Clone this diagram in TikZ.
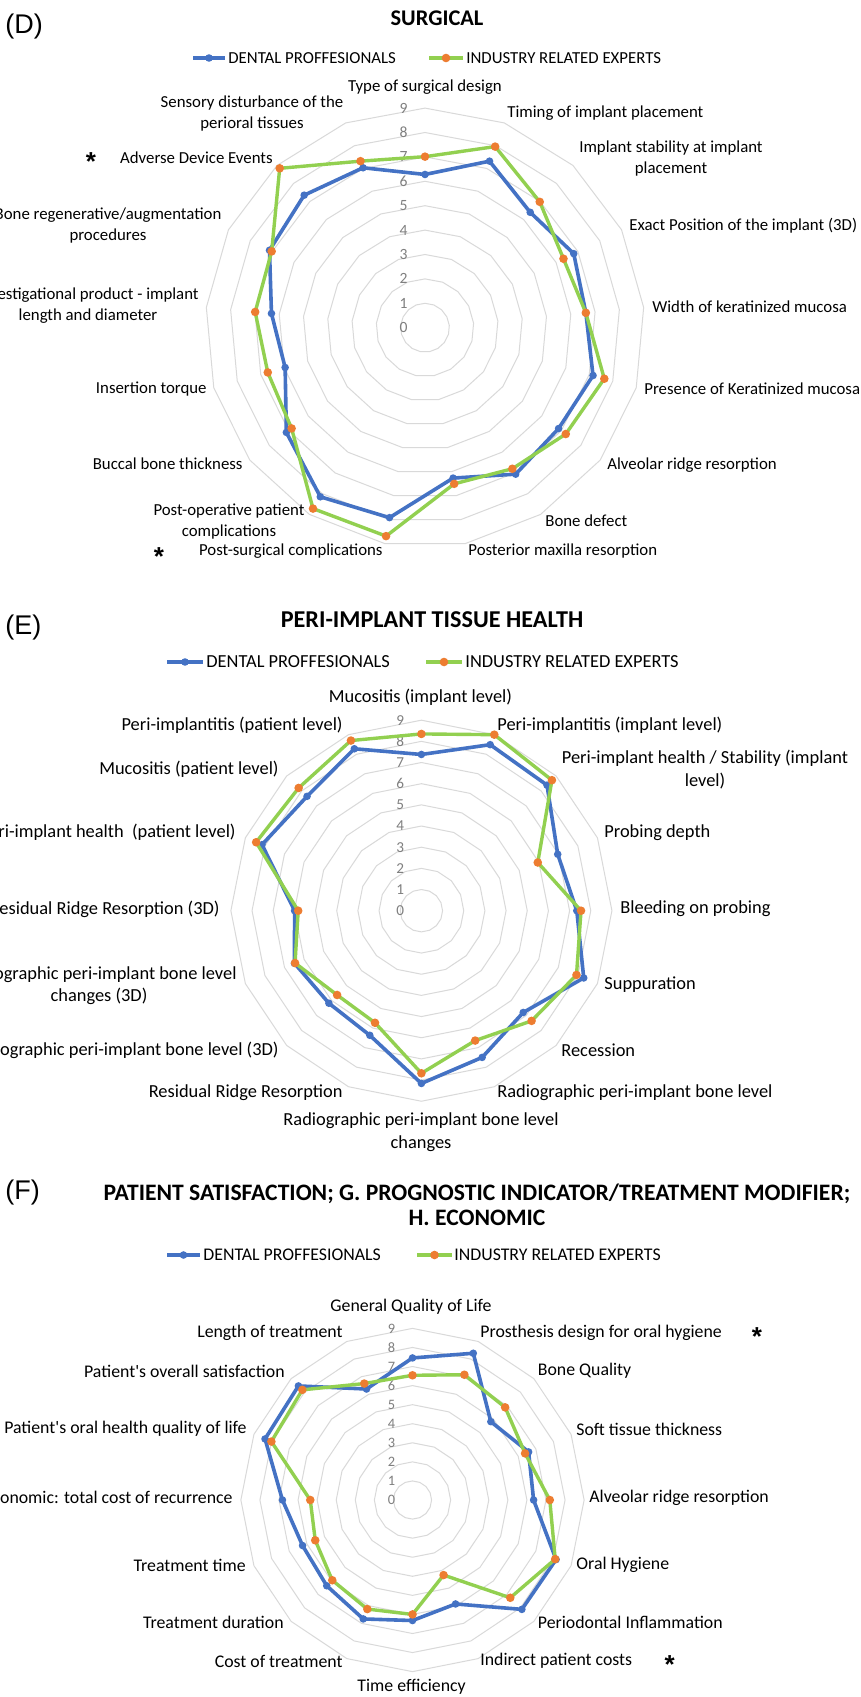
\documentclass[tikz,border=0pt]{standalone}
\usepackage{fontspec}
\setmainfont{Carlito}[Ligatures=TeXOff]
\newfontfamily\arialfont{Liberation Sans}
\definecolor{dpblue}{HTML}{4472C4}
\definecolor{irgreen}{HTML}{92D050}
\definecolor{irorange}{HTML}{ED7D31}
\definecolor{gridgray}{HTML}{D9D9D9}
\definecolor{ticgray}{HTML}{7F7F7F}
\tikzset{
  ringline/.style={draw=gridgray, line width=0.5pt},
  blueline/.style={draw=dpblue, line width=1.8pt, line join=round},
  greenline/.style={draw=irgreen, line width=1.7pt, line join=round},
  bluedot/.style={circle, fill=dpblue, draw=none, inner sep=0pt, minimum size=3.8pt},
  orangedot/.style={circle, fill=irorange, draw=none, inner sep=0pt, minimum size=4.3pt},
  ticklab/.style={text=ticgray, inner sep=0pt, anchor=east, font=\fontsize{#1}{#1}\selectfont},
  lbl/.style={inner sep=0pt, align=center},
  lblD/.style={lbl, font=\fontsize{8.4}{10.5}\selectfont},
  lblE/.style={lbl, font=\fontsize{9.2}{11.25}\selectfont},
  lblF/.style={lbl, font=\fontsize{8.9}{11}\selectfont},
  paneltag/.style={inner sep=0pt, anchor=west, font=\arialfont\fontsize{13.5}{15}\selectfont},
  starmark/.style={inner sep=0pt, font=\arialfont\bfseries\fontsize{13}{15}\selectfont},
  charttitle/.style={inner sep=0pt, align=center, font=\bfseries\fontsize{#1}{12.5}\selectfont},
}
% #1 prefix, #2 cx, #3 cy, #4 number of axes, #5 unit, #6 tick font size, #7 blue values, #8 green values
\newcommand\radar[8]{%
  \pgfmathtruncatemacro\lastk{#4-1}%
  \begin{scope}[shift={(#2,#3)}]
    \foreach \rr in {1,...,9}{%
      \draw[ringline] plot[samples at={0,...,\lastk}, variable=\kk] ({\rr*#5*sin(\kk*360/#4)},{-\rr*#5*cos(\kk*360/#4)}) -- cycle;
    }
    \foreach \tv in {0,...,9}{%
      \node[ticklab=#6] (#1t\tv) at (-17,{-\tv*#5}) {\tv};
    }
    \foreach \val [count=\kk from 0] in {#7}{%
      \coordinate (#1b\kk) at ({\val*#5*sin(\kk*360/#4)},{-\val*#5*cos(\kk*360/#4)});
    }
    \foreach \val [count=\kk from 0] in {#8}{%
      \coordinate (#1g\kk) at ({\val*#5*sin(\kk*360/#4)},{-\val*#5*cos(\kk*360/#4)});
    }
    \draw[blueline] (#1b0) \foreach \kk in {1,...,\lastk}{-- (#1b\kk)} -- cycle;
    \foreach \kk in {0,...,\lastk}{\node[bluedot] (#1bm\kk) at (#1b\kk) {};}
    \draw[greenline] (#1g0) \foreach \kk in {1,...,\lastk}{-- (#1g\kk)} -- cycle;
    \foreach \kk in {0,...,\lastk}{\node[orangedot] (#1gm\kk) at (#1g\kk) {};}
  \end{scope}
}
% legend: #1 prefix, #2 y, #3 blue x1, #4 blue x2, #5 blue text x, #6 green x1, #7 green x2, #8 green text x, #9 style
\newcommand\legend[9]{%
  \coordinate (#1lb1) at (#3,#2); \coordinate (#1lb2) at (#4,#2);
  \draw[blueline] (#1lb1) -- (#1lb2);
  \node[bluedot] (#1lbm) at ($(#1lb1)!0.5!(#1lb2)$) {};
  \node[#9, anchor=west] (#1lbt) at (#5,#2) {DENTAL PROFFESIONALS};
  \coordinate (#1lg1) at (#6,#2); \coordinate (#1lg2) at (#7,#2);
  \draw[greenline] (#1lg1) -- (#1lg2);
  \node[orangedot] (#1lgm) at ($(#1lg1)!0.5!(#1lg2)$) {};
  \node[#9, anchor=west] (#1lgt) at (#8,#2) {INDUSTRY RELATED EXPERTS};
}
\usetikzlibrary{calc}
\begin{document}
\begin{tikzpicture}[x=0.5pt, y=-0.5pt]
\useasboundingbox (0,0) rectangle (861,1697);
\fill[white] (0,0) rectangle (861,1697);

%================ (D) SURGICAL ================
\node[paneltag] (Dtag) at (5,27) {(D)};
\node[charttitle=11.2] (Dtitle) at (437,18) {SURGICAL};
\legend{D}{58}{193}{225}{228}{429}{463}{466}{lblD}
\radar{D}{425}{327.7}{17}{24.4}{7.8}
 {6.28,7.32,6.40,6.81,6.62,7.16,6.86,7.06,6.27,7.92,8.15,7.12,5.96,6.32,7.12,7.35,7.03}
 {7.01,7.96,6.98,6.34,6.62,7.64,7.23,6.80,6.51,8.69,8.72,6.85,6.70,6.99,7.02,8.84,7.32}
\node[lblD] (Dl0) at (425,87) {Type of surgical design};
\node[lblD, anchor=west] (Dl1) at (507,113) {Timing of implant placement};
\node[lblD] (Dl2) at (671,158.5) {Implant stability at implant\\placement};
\node[lblD, anchor=west] (Dl3) at (629,225.7) {Exact Position of the implant (3D)};
\node[lblD, anchor=west] (Dl4) at (652,306.7) {Width of keratinized mucosa};
\node[lblD, anchor=west] (Dl5) at (644,389) {Presence of Keratinized mucosa};
\node[lblD, anchor=west] (Dl6) at (607,465) {Alveolar ridge resorption};
\node[lblD, anchor=west] (Dl7) at (545,521) {Bone defect};
\node[lblD, anchor=west] (Dl8) at (468,551) {Posterior maxilla resorption};
\node[lblD, anchor=east] (Dl9) at (383,551) {Post-surgical complications};
\node[lblD] (Dl10) at (229,522) {Post-operative patient\\complications};
\node[lblD, anchor=east] (Dl11) at (243,464) {Buccal bone thickness};
\node[lblD, anchor=east] (Dl12) at (207,389) {Insertion torque};
\node[lblD] (Dl13) at (88,306) {Investigational product - implant\\length and diameter};
\node[lblD] (Dl14) at (108,225.5) {Bone regenerative/augmentation\\procedures};
\node[lblD, anchor=east] (Dl15) at (273,158) {Adverse Device Events};
\node[lblD] (Dl16) at (252,114) {Sensory disturbance of the\\perioral tissues};
\node[starmark] (Ds1) at (91,162) {*};
\node[starmark] (Ds2) at (159,557) {*};

%================ (E) PERI-IMPLANT TISSUE HEALTH ================
\node[paneltag] (Etag) at (5,628) {(E)};
\node[charttitle=12.1] (Etitle) at (432,620) {PERI-IMPLANT TISSUE HEALTH};
\legend{E}{662}{167}{203}{206}{426}{462}{465}{lblE}
\radar{E}{421.4}{910.7}{16}{21.17}{7.6}
 {7.38,8.49,8.39,6.97,7.34,8.30,6.80,7.50,8.16,6.37,6.18,6.49,5.99,8.15,7.64,8.28}
 {8.35,9.00,8.72,5.95,7.54,7.93,7.36,6.64,7.68,5.73,5.63,6.46,5.82,8.45,8.20,8.70}
\node[lblE] (El0) at (420.5,697.7) {Mucositis (implant level)};
\node[lblE, anchor=west] (El1) at (497,725.7) {Peri-implantitis (implant level)};
\node[lblE] (El2) at (705,769.5) {Peri-implant health / Stability (implant\\level)};
\node[lblE, anchor=west] (El3) at (604,833) {Probing depth};
\node[lblE, anchor=west] (El4) at (620,909) {Bleeding on probing};
\node[lblE, anchor=west] (El5) at (604,985) {Suppuration};
\node[lblE, anchor=west] (El6) at (561,1050) {Recession};
\node[lblE, anchor=west] (El7) at (497,1093) {Radiographic peri-implant bone level};
\node[lblE] (El8) at (421,1132) {Radiographic peri-implant bone level\\changes};
\node[lblE, anchor=east] (El9) at (343,1093) {Residual Ridge Resorption};
\node[lblE, anchor=east] (El10) at (279,1050) {Radiographic peri-implant bone level (3D)};
\node[lblE] (El11) at (99,985.5) {Radiographic peri-implant bone level\\changes (3D)};
\node[lblE, anchor=east] (El12) at (220,909) {Residual Ridge Resorption (3D)};
\node[lblE, anchor=east] (El13) at (236,832.7) {Peri-implant health~ (patient level)};
\node[lblE, anchor=east] (El14) at (279,769) {Mucositis (patient level)};
\node[lblE, anchor=east] (El15) at (343,725.7) {Peri-implantitis (patient level)};

%================ (F) PATIENT SATISFACTION ... ================
\node[paneltag] (Ftag) at (5,1192) {(F)};
\node[charttitle=11.8] (Ftitle) at (477,1204.5) {PATIENT SATISFACTION; G. PROGNOSTIC INDICATOR/TREATMENT MODIFIER;\\H. ECONOMIC};
\legend{F}{1255}{167}{200}{203}{417}{452}{454}{lblF}
\radar{F}{412.5}{1500}{16}{19.07}{7.2}
 {7.45,8.33,5.81,6.59,6.35,8.15,8.11,5.90,6.32,6.75,6.36,6.24,6.82,8.37,8.46,6.30}
 {6.54,7.11,6.87,6.39,7.20,8.10,7.25,4.26,6.00,6.19,5.95,5.52,5.36,8.01,8.17,6.61}
\node[lblF] (Fl0) at (411,1307) {General Quality of Life};
\node[lblF, anchor=west] (Fl1) at (480,1333) {Prosthesis design for oral hygiene};
\node[lblF, anchor=west] (Fl2) at (537.5,1371) {Bone Quality};
\node[lblF, anchor=west] (Fl3) at (576,1429) {Soft tissue thickness};
\node[lblF, anchor=west] (Fl4) at (589,1497.7) {Alveolar ridge resorption};
\node[lblF, anchor=west] (Fl5) at (576,1565) {Oral Hygiene};
\node[lblF, anchor=west] (Fl6) at (537.5,1622.7) {Periodontal Inflammation};
\node[lblF, anchor=west] (Fl7) at (480,1661) {Indirect patient costs};
\node[lblF] (Fl8) at (411.6,1686.7) {Time efficiency};
\node[lblF, anchor=east] (Fl9) at (343,1661) {Cost of treatment};
\node[lblF, anchor=east] (Fl10) at (284,1622.7) {Treatment duration};
\node[lblF, anchor=east] (Fl11) at (246,1565) {Treatment time};
\node[lblF, anchor=east] (Fl12) at (233,1497.7) {Economic: total cost of recurrence};
\node[lblF, anchor=east] (Fl13) at (247,1429) {Patient's oral health quality of life};
\node[lblF, anchor=east] (Fl14) at (285,1371) {Patient's overall satisfaction};
\node[lblF, anchor=east] (Fl15) at (343,1333) {Length of treatment};
\node[starmark] (Fs1) at (757,1337) {*};
\node[starmark] (Fs2) at (669.6,1665) {*};
\end{tikzpicture}
\end{document}
